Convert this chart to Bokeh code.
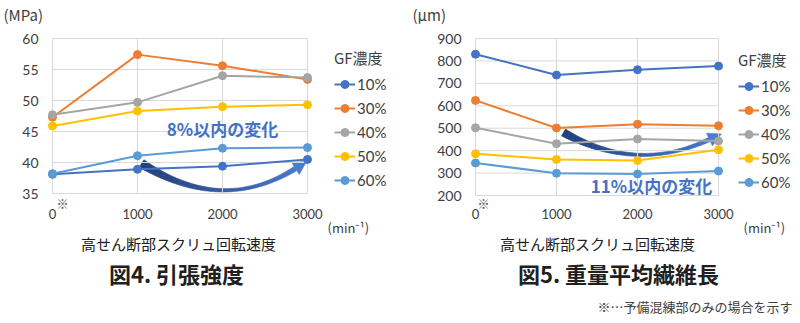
import numpy as np
from bokeh.plotting import figure
from bokeh.models import Legend, LegendItem, Range1d
from bokeh.core.properties import value
from bokeh.embed import file_html
from bokeh.resources import INLINE

# ---------------- data ----------------
speed = [0, 1000, 2000, 3000]
speed_tick_labels = ["0", "1000", "2000", "3000"]
gf_levels = ["10%", "30%", "40%", "50%", "60%"]

tensile_10 = [38.1, 38.9, 39.4, 40.5]
tensile_30 = [47.3, 57.4, 55.6, 53.4]
tensile_40 = [47.7, 49.7, 54.0, 53.7]
tensile_50 = [45.9, 48.3, 49.0, 49.3]
tensile_60 = [38.2, 41.1, 42.3, 42.4]

fiber_10 = [830, 737, 761, 777]
fiber_30 = [624, 501, 518, 511]
fiber_40 = [502, 431, 452, 443]
fiber_50 = [386, 361, 356, 404]
fiber_60 = [345, 299, 296, 309]

tensile_ticks = [35, 40, 45, 50, 55, 60]
fiber_ticks = [200, 300, 400, 500, 600, 700, 800, 900]

colors = ["#4472C4", "#ED7D31", "#A5A5A5", "#FFC000", "#5B9BD5"]

JP = "Noto Sans CJK JP"
NUM = "Lato"
W, H = 800, 323

# canvas: default ranges are page pixels (y downward)
p = figure(width=W, height=H, output_backend="svg", toolbar_location=None,
           x_range=Range1d(0, W), y_range=Range1d(H, 0),
           min_border=0, x_axis_type=None, y_axis_type=None)
p.outline_line_color = None
p.grid.visible = False
p.background_fill_color = "white"
p.border_fill_color = "white"


def add_chart_ranges(name, frame, xr, yr):
    """Extra ranges so that the data area lands in the pixel frame (l, r, t, b)."""
    l, r, t, b = frame
    kx = (xr[1] - xr[0]) / (r - l)
    ky = (yr[1] - yr[0]) / (b - t)
    p.extra_x_ranges[name + "x"] = Range1d(xr[0] - l * kx, xr[0] + (W - l) * kx)
    p.extra_y_ranges[name + "y"] = Range1d(yr[0] - (H - b) * ky, yr[1] + t * ky)
    return name + "x", name + "y"


def txt(x, y, s, size, bold=False, color="#404040", align="center", font=JP,
        xr="default", yr="default", baseline="middle"):
    p.text(x=x, y=y, text=s, x_range_name=xr, y_range_name=yr,
           text_font=value(font), text_font_size=f"{size}px",
           text_font_style="bold" if bold else "normal",
           text_color=color, text_align=align, text_baseline=baseline)


def hexmix(c0, c1, f):
    a = [int(c0[i:i + 2], 16) for i in (1, 3, 5)]
    b = [int(c1[i:i + 2], 16) for i in (1, 3, 5)]
    return "#%02x%02x%02x" % tuple(int(round(a[k] + (b[k] - a[k]) * f)) for k in range(3))


def add_arrow(P0, P1, P2, w0, w1, w2, head_w, head_len,
              c0="#213F7A", c1="#4A7BD0", n=30):
    """Decorative curved arrow, drawn in page pixels."""
    P0, P1, P2 = map(np.array, (P0, P1, P2))

    def B(t):
        return (1 - t) ** 2 * P0 + 2 * (1 - t) * t * P1 + t ** 2 * P2

    def dB(t):
        return 2 * (1 - t) * (P1 - P0) + 2 * t * (P2 - P1)

    def hw(t):
        return w0 * (1 - t) * (1 - 2 * t) + w1 * 4 * t * (1 - t) + w2 * t * (2 * t - 1)

    ts = np.linspace(0, 1, n + 1)
    Ls, Rs = [], []
    for t in ts:
        d = dB(t)
        d = d / np.hypot(*d)
        nrm = np.array([-d[1], d[0]])
        c = B(t)
        Ls.append(c + nrm * hw(t))
        Rs.append(c - nrm * hw(t))
    xs, ys, cols = [], [], []
    for i in range(n):
        quad = [Ls[i], Ls[i + 1], Rs[i + 1], Rs[i]]
        xs.append([q[0] for q in quad])
        ys.append([q[1] for q in quad])
        cols.append(hexmix(c0, c1, (i + 0.5) / (n + 3)))
    d = dB(1.0)
    d = d / np.hypot(*d)
    nrm = np.array([-d[1], d[0]])
    head = [P2 + nrm * head_w, P2 + d * head_len, P2 - nrm * head_w]
    xs.append([q[0] for q in head])
    ys.append([q[1] for q in head])
    cols.append(c1)
    p.patches(xs, ys, fill_color=cols, line_color=cols, line_width=0.6)


def draw_chart(name, frame, yr_vals, yticks, series, ylab_x, xlab_y, leg_xy):
    xr_name, yr_name = add_chart_ranges(name, frame, (0, 3000), yr_vals)
    # grid lines
    p.segment(x0=speed, y0=[yr_vals[0]] * len(speed), x1=speed, y1=[yr_vals[1]] * len(speed),
              x_range_name=xr_name, y_range_name=yr_name, line_color="#D9D9D9", line_width=1)
    p.segment(x0=[0] * len(yticks), y0=yticks, x1=[3000] * len(yticks), y1=yticks,
              x_range_name=xr_name, y_range_name=yr_name, line_color="#D9D9D9", line_width=1)
    # tick labels
    txt([ylab_x] * len(yticks), yticks, [str(v) for v in yticks], 14, align="right",
        font=NUM, yr=yr_name, color="#404040")
    txt(speed, [xlab_y] * len(speed), speed_tick_labels, 13, font=NUM, xr=xr_name,
        color="#404040")
    # series
    items = []
    for lab, vals, col in zip(gf_levels, series, colors):
        l = p.line(speed, vals, line_color=col, line_width=2,
                   x_range_name=xr_name, y_range_name=yr_name)
        s = p.scatter(speed, vals, size=8, fill_color=col, line_color=col,
                      x_range_name=xr_name, y_range_name=yr_name)
        items.append(LegendItem(label=lab, renderers=[l, s]))
    leg = Legend(items=items, title="GF濃度", location=leg_xy,
                 title_text_font=JP, title_text_font_size="15px",
                 title_text_font_style="normal", title_text_color="#404040",
                 title_standoff=6,
                 label_text_font=NUM, label_text_font_size="15px",
                 label_text_color="#404040",
                 glyph_width=21, glyph_height=20, label_height=20,
                 label_standoff=2, spacing=4, padding=0, margin=0,
                 border_line_color=None, background_fill_alpha=0)
    p.add_layout(leg)


# ---------------- left chart: tensile strength ----------------
add_arrow((141, 163), (222, 214), (295, 168), 4.5, 1.7, 2.5, 7, 13)
draw_chart("t", (52, 307, 38, 193), (35, 60), tensile_ticks,
           [tensile_10, tensile_30, tensile_40, tensile_50, tensile_60],
           38, 213, (334, 133))
txt([3], [14], ["(MPa)"], 15, align="left")
txt([62], [203], ["※"], 12)
txt([327], [227], ["(min⁻¹)"], 13, align="left")
txt([178], [243], ["高せん断部スクリュ回転速度"], 15, color="#202020")
txt([176], [272], ["図4. 引張強度"], 22, bold=True, color="#202020")
txt([222], [128], ["8%以内の変化"], 17, bold=True, color="#4472C4")

# ---------------- right chart: weight average fiber length ----------------
add_arrow((563, 132), (636, 173), (709, 139), 4.0, 1.6, 2.2, 7, 13)
draw_chart("f", (475, 718, 38, 195), (200, 900), fiber_ticks,
           [fiber_10, fiber_30, fiber_40, fiber_50, fiber_60],
           461, 213, (738, 131))
txt([412], [14], ["(µm)"], 15, align="left")
txt([483], [203], ["※"], 12)
txt([743], [227], ["(min⁻¹)"], 13, align="left")
txt([597], [243], ["高せん断部スクリュ回転速度"], 15, color="#202020")
txt([618], [272], ["図5. 重量平均繊維長"], 22, bold=True, color="#202020")
txt([651], [185], ["11%以内の変化"], 17, bold=True, color="#4472C4")
txt([792], [306], ["※…予備混練部のみの場合を示す"], 13, align="right", color="#404040")

open("out.html", "w").write(file_html(p, INLINE))
